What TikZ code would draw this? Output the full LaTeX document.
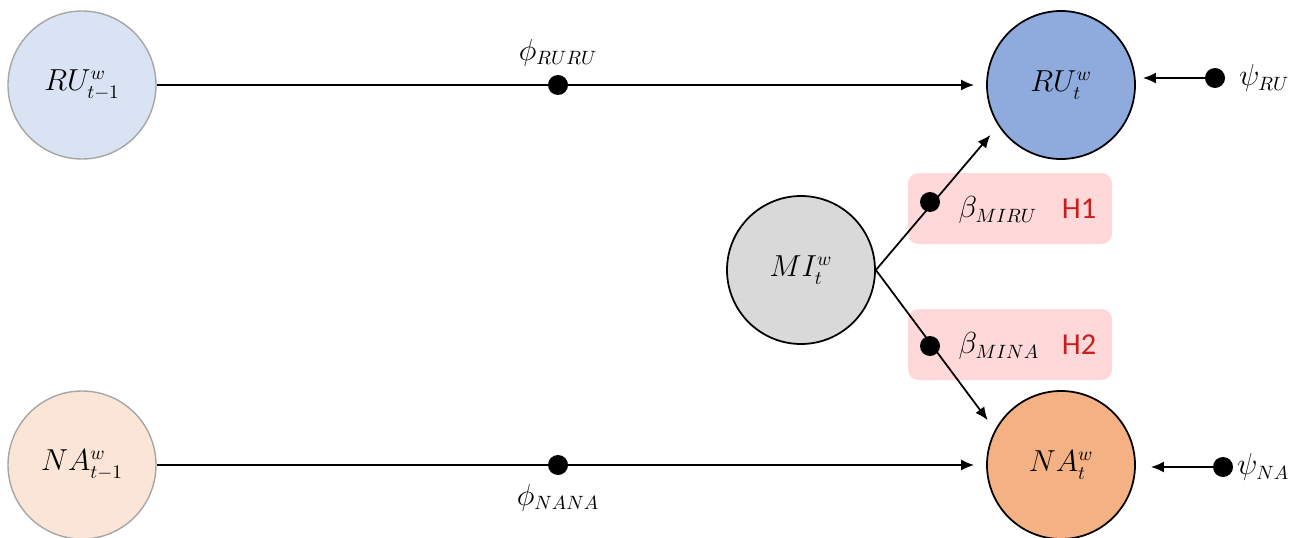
\documentclass[tikz,border=0pt]{standalone}
\usepackage{fontspec}
\newfontfamily\hypfont{Carlito}
\usepackage{tikz}
\usetikzlibrary{arrows.meta,positioning}
\definecolor{rulight}{HTML}{DAE3F3}
\definecolor{rudark}{HTML}{8FAADC}
\definecolor{nalight}{HTML}{FBE5D6}
\definecolor{nadark}{HTML}{F4B183}
\definecolor{migray}{HTML}{D9D9D9}
\definecolor{hypfill}{HTML}{FFD9D9}
\definecolor{hypred}{HTML}{C81E1E}

\begin{document}
\begin{tikzpicture}[every node/.style={font=\fontsize{16}{20}\selectfont},
    state/.style={circle, minimum size=2.96cm, inner sep=0pt},
    lagged/.style={state, draw=gray!70, line width=0.8pt},
    current/.style={state, draw=black, line width=1pt},
    dot/.style={circle, fill=black, inner sep=0pt, minimum size=0.4cm},
    hypbox/.style={fill=hypfill, rounded corners=6pt, minimum width=4.08cm, minimum height=1.42cm, inner sep=0pt},
    hyplabel/.style={font=\LARGE\hypfont, color=hypred},
    link/.style={-{Latex[length=2.6mm,width=2.2mm]}, line width=1pt, shorten >=0.24cm}]
    \useasboundingbox (0,0) rectangle (26.16,-10.74);

    % Hypothesis boxes (behind the paths)
    \node[hypbox] (hyp1) at (20.2,-4.17) {};
    \node[hypbox] (hyp2) at (20.2,-6.89) {};

    % States at t-1 and t
    \node[lagged, fill=rulight] (ru1) at (1.64,-1.70) {$RU^{w}_{t-1}$};
    \node[lagged, fill=nalight] (na1) at (1.64,-9.30) {$NA^{w}_{t-1}$};
    \node[current, fill=rudark] (ru) at (21.22,-1.70) {$RU^{w}_{t}$};
    \node[current, fill=nadark] (na) at (21.22,-9.30) {$NA^{w}_{t}$};
    \node[current, fill=migray] (mi) at (16.02,-5.40) {$MI^{w}_{t}$};

    % Paths
    \draw[link] (ru1) -- (ru);
    \draw[link] (na1) -- (na);
    \draw[link] (mi.east) -- (ru.213);
    \draw[link] (mi.east) -- (na.152);

    % Path coefficients
    \node[dot] (phiru) at (11.16,-1.70) {};
    \node[dot] (phina) at (11.16,-9.30) {};
    \node[above=0.05cm of phiru] {$\phi_{RURU}$};
    \node[below=0.05cm of phina] {$\phi_{NANA}$};

    \node[dot] (bru) at (18.60,-4.04) {};
    \node[dot] (bna) at (18.60,-6.92) {};
    \node[anchor=west] at (19.05,-4.2) {$\beta_{MIRU}$};
    \node[anchor=west] at (19.05,-6.92) {$\beta_{MINA}$};
    \node[hyplabel] at (21.58,-4.17) {H1};
    \node[hyplabel] at (21.58,-6.89) {H2};

    % Residuals
    \node[dot] (psiru) at (24.30,-1.56) {};
    \node[dot] (psina) at (24.46,-9.34) {};
    \draw[link, shorten >=0.14cm] (psiru) -- (psiru -| ru.east);
    \draw[link, shorten >=0.3cm] (psina) -- (psina -| na.east);
    \node[right=0.15cm of psiru] {$\psi_{RU}$};
    \node[right=-0.05cm of psina] {$\psi_{NA}$};
\end{tikzpicture}
\end{document}
